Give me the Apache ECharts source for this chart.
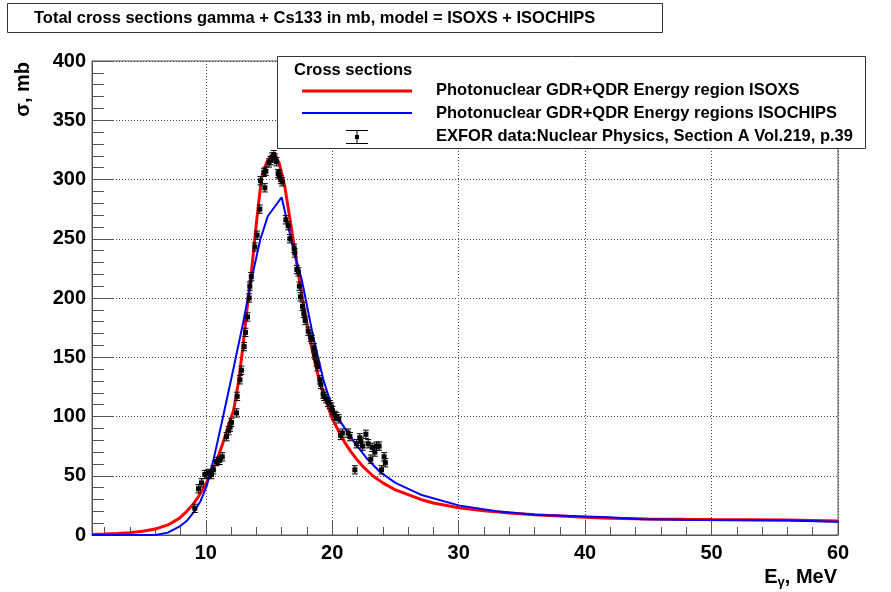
<!DOCTYPE html>
<html>
<head>
<meta charset="utf-8">
<script src="https://cdn.jsdelivr.net/npm/echarts@6/dist/echarts.min.js"></script>
<style>
  html, body { margin: 0; padding: 0; background: #fff; }
  #chart { width: 891px; height: 592px; }
</style>
</head>
<body>
<div id="chart"></div>
<script>
//****** data ******//
// EXFOR points (E in MeV, sigma in mb)
var exforE = [9.13, 9.42, 9.66, 9.92, 10.2, 10.45, 10.6, 10.85, 11.1, 11.3, 11.64, 11.8, 11.92, 12.03,
  12.43, 12.48, 12.7, 12.82, 13.03, 13.14, 13.3, 13.43, 13.48, 13.6, 13.88, 14.06, 14.27, 14.33,
  14.59, 14.67, 14.75, 15.0, 15.12, 15.25, 15.38, 15.46, 15.59, 15.72, 15.8, 15.93, 16.04, 16.33,
  16.51, 16.65, 16.99, 17.04, 17.2, 17.32, 17.4, 17.49, 17.65, 17.75, 17.86, 18.1, 18.3, 18.39,
  18.55, 18.62, 18.76, 18.84, 19.02, 19.1, 19.28, 19.36, 19.5, 19.68, 19.8, 19.94, 20.02, 20.2,
  20.34, 20.52, 20.66, 20.8, 21.26, 21.4, 21.79, 21.92, 22.18, 22.26, 22.4, 22.66, 22.84, 23.05,
  23.16, 23.37, 23.5, 23.71, 23.9, 24.1, 24.2];
var exforSigma = [22.5, 39, 44, 51, 52, 51, 55, 62, 63, 66, 83, 88, 91, 95,
  103, 117, 131, 139, 159, 171, 184, 200, 210, 218, 243, 253, 275, 299,
  306, 293, 307, 314, 316, 319, 321, 318, 315, 305, 304, 300, 298, 266,
  261, 250, 242, 238, 224, 222, 210, 201, 193, 187, 181, 172, 167, 165,
  158, 152, 146, 142, 131, 127, 119, 117, 115, 112, 110, 108, 105, 101,
  100, 98, 84, 86, 86, 83, 55, 77, 82, 79, 75, 85, 77, 64,
  74, 70, 75, 75, 55, 66, 61];
var exforErr = 3.5;

// ISOXS model curve
var isoxsE = [1, 2, 3, 4, 5, 6, 7, 7.9, 8.5, 9, 9.4, 10, 10.5, 10.9, 11.3, 11.6, 11.9, 12.2, 12.6,
  12.95, 13.25, 13.6, 14.0, 14.4, 14.8, 15.1, 15.46, 15.8, 16.25, 16.8, 17.3, 17.8, 18.2, 18.6,
  19.0, 19.5, 20.0, 20.5, 21.0, 21.5, 22.0, 22.5, 23.2, 24, 25, 26, 27, 28, 30, 32, 34, 36, 38,
  40, 42, 45, 48, 50, 53, 56, 56.1, 60];
var isoxsSigma = [0.5, 0.8, 1.3, 2, 3.2, 5, 8.5, 14, 20, 26, 32, 43, 54, 64, 76, 86, 96, 105, 130,
  160, 190, 221, 263, 301, 314, 319, 321, 314, 294, 257, 222, 190, 167, 147,
  130, 114, 98, 88, 78, 70, 63, 57, 50, 44, 38, 34, 30, 27, 23, 20.5, 18.5, 17, 16,
  15, 14.2, 13.6, 13.2, 13, 12.8, 12.6, 11.8, 11.8];

// ISOCHIPS model curve
var isochipsE = [1, 6, 7, 7.9, 8.5, 9.1, 9.6, 10.06, 10.6, 11.37, 12.16, 12.95, 13.6, 14.3, 14.9,
  16.0, 16.4, 17.0, 17.6, 18.5, 19.3, 20.07, 21.0, 21.7, 22.7, 23.8, 25, 27, 30, 33, 36, 39.4,
  39.5, 41.9, 42, 44.5, 48.7, 56, 56.1, 60];
var isochipsSigma = [0, 0, 2, 7, 12, 20, 29, 41, 63, 100, 139, 179, 215, 249, 269,
  285, 266, 238, 215, 167, 131, 105, 90, 79, 65, 53, 44, 34, 25, 20, 17, 15.8,
  15, 15, 14, 13.3, 12.6, 12.3, 11.2, 11.2];

// axis ticks
var xMajor = [10, 20, 30, 40, 50, 60];
var xMinor = [2, 4, 6, 8, 12, 14, 16, 18, 22, 24, 26, 28, 32, 34, 36, 38, 42, 44, 46, 48, 52, 54, 56, 58];

//****** helpers ******//
function pairs(xs, ys) {
  var out = [];
  for (var i = 0; i < xs.length; i++) out.push([xs[i], ys[i]]);
  return out;
}
var exforData = [];
for (var i = 0; i < exforE.length; i++) exforData.push([exforE[i], exforSigma[i], exforErr]);

var FONT = "'Liberation Sans', Arial, sans-serif";
var AXIS_COLOR = "#555";
var GRID_LINE = { color: "#444", width: 1, type: [1, 2] };
var LEG_FONT = "bold 16.5px " + FONT;

var chart = echarts.init(document.getElementById("chart"));

var option = {
  backgroundColor: "#fff",
  animation: false,
  grid: {
    left: 92, right: 53, top: 61, bottom: 57,
    show: true, borderColor: AXIS_COLOR, borderWidth: 1
  },
  xAxis: [
    {
      type: "value", min: 1, max: 60,
      axisLine: { show: true, lineStyle: { color: AXIS_COLOR } },
      axisTick: { show: true, inside: true, length: 15, customValues: xMajor, lineStyle: { color: AXIS_COLOR } },
      axisLabel: {
        customValues: xMajor, margin: 8, color: "#000",
        fontFamily: FONT, fontWeight: "bold", fontSize: 20
      },
      splitLine: { show: true, lineStyle: GRID_LINE }
    },
    {
      // minor ticks only
      type: "value", min: 1, max: 60, position: "bottom",
      axisLine: { show: false },
      axisTick: { show: true, inside: true, length: 8, customValues: xMinor, lineStyle: { color: AXIS_COLOR } },
      axisLabel: { show: false },
      splitLine: { show: false }
    }
  ],
  yAxis: {
    type: "value", min: 0, max: 400, interval: 50,
    axisLine: { show: true, lineStyle: { color: AXIS_COLOR } },
    axisTick: { show: true, inside: true, length: 22, lineStyle: { color: AXIS_COLOR } },
    minorTick: { show: true, splitNumber: 5, length: 12, lineStyle: { color: AXIS_COLOR } },
    axisLabel: {
      margin: 6, color: "#000",
      fontFamily: FONT, fontWeight: "bold", fontSize: 20
    },
    splitLine: { show: true, lineStyle: GRID_LINE }
  },
  series: [
    {
      name: "ISOXS", type: "line", data: pairs(isoxsE, isoxsSigma),
      showSymbol: false, smooth: false, z: 3,
      lineStyle: { color: "#ff0000", width: 3 }
    },
    {
      name: "ISOCHIPS", type: "line", data: pairs(isochipsE, isochipsSigma),
      showSymbol: false, smooth: false, z: 4,
      lineStyle: { color: "#0000ff", width: 2 }
    },
    {
      name: "EXFOR", type: "custom", data: exforData, z: 5,
      renderItem: function (params, api) {
        var x = api.value(0), y = api.value(1), e = api.value(2);
        var p = api.coord([x, y]);
        var top = api.coord([x, y + e])[1];
        var bot = api.coord([x, y - e])[1];
        var st = { stroke: "#000", lineWidth: 1 };
        return {
          type: "group",
          children: [
            { type: "line", shape: { x1: p[0], y1: top, x2: p[0], y2: bot }, style: st },
            { type: "line", shape: { x1: p[0] - 3, y1: top, x2: p[0] + 3, y2: top }, style: st },
            { type: "line", shape: { x1: p[0] - 3, y1: bot, x2: p[0] + 3, y2: bot }, style: st },
            { type: "rect", shape: { x: p[0] - 2.5, y: p[1] - 2.5, width: 5, height: 5 }, style: { fill: "#000" } }
          ]
        };
      }
    }
  ],
  graphic: [
    // title box
    { type: "rect", z: 100, shape: { x: 7.5, y: 3.5, width: 655, height: 29 },
      style: { fill: "#fff", stroke: "#333", lineWidth: 1 } },
    { type: "text", z: 101, x: 34, y: 18,
      style: { text: "Total cross sections gamma + Cs133 in mb, model = ISOXS + ISOCHIPS",
        font: "bold 16.5px " + FONT, fill: "#000", textVerticalAlign: "middle" } },
    // legend box
    { type: "rect", z: 100, shape: { x: 277.5, y: 56.5, width: 588, height: 92 },
      style: { fill: "#fff", stroke: "#333", lineWidth: 1 } },
    { type: "text", z: 101, x: 294, y: 70,
      style: { text: "Cross sections", font: LEG_FONT, fill: "#000", textVerticalAlign: "middle" } },
    { type: "line", z: 101, shape: { x1: 302, y1: 91, x2: 412, y2: 91 },
      style: { stroke: "#ff0000", lineWidth: 3 } },
    { type: "text", z: 101, x: 436, y: 90,
      style: { text: "Photonuclear GDR+QDR Energy region ISOXS", font: LEG_FONT, fill: "#000", textVerticalAlign: "middle" } },
    { type: "line", z: 101, shape: { x1: 302, y1: 113, x2: 412, y2: 113 },
      style: { stroke: "#0000ff", lineWidth: 2 } },
    { type: "text", z: 101, x: 436, y: 113,
      style: { text: "Photonuclear GDR+QDR Energy regions ISOCHIPS", font: LEG_FONT, fill: "#000", textVerticalAlign: "middle" } },
    { type: "line", z: 101, shape: { x1: 357, y1: 130, x2: 357, y2: 144 }, style: { stroke: "#000", lineWidth: 1 } },
    { type: "line", z: 101, shape: { x1: 346, y1: 130.5, x2: 368, y2: 130.5 }, style: { stroke: "#000", lineWidth: 1 } },
    { type: "line", z: 101, shape: { x1: 346, y1: 143.5, x2: 368, y2: 143.5 }, style: { stroke: "#000", lineWidth: 1 } },
    { type: "rect", z: 101, shape: { x: 355, y: 135, width: 4, height: 4 }, style: { fill: "#000" } },
    { type: "text", z: 101, x: 436, y: 136,
      style: { text: "EXFOR data:Nuclear Physics, Section A Vol.219, p.39", font: LEG_FONT, fill: "#000", textVerticalAlign: "middle" } },
    // axis titles
    { type: "text", z: 101, x: 837, y: 577,
      style: { text: "{a|E}{s|\u03b3}{a|, MeV}", textAlign: "right", textVerticalAlign: "middle",
        rich: {
          a: { font: "bold 20px " + FONT, fill: "#000" },
          s: { font: "bold 13px " + FONT, fill: "#000", padding: [10, 0, 0, 0] }
        } } },
    { type: "text", z: 101, x: 23, y: 62, rotation: Math.PI / 2,
      style: { text: "\u03c3, mb", font: "bold 20px " + FONT, fill: "#000", textAlign: "right", textVerticalAlign: "middle" } }
  ]
};

chart.setOption(option);
</script>
</body>
</html>
